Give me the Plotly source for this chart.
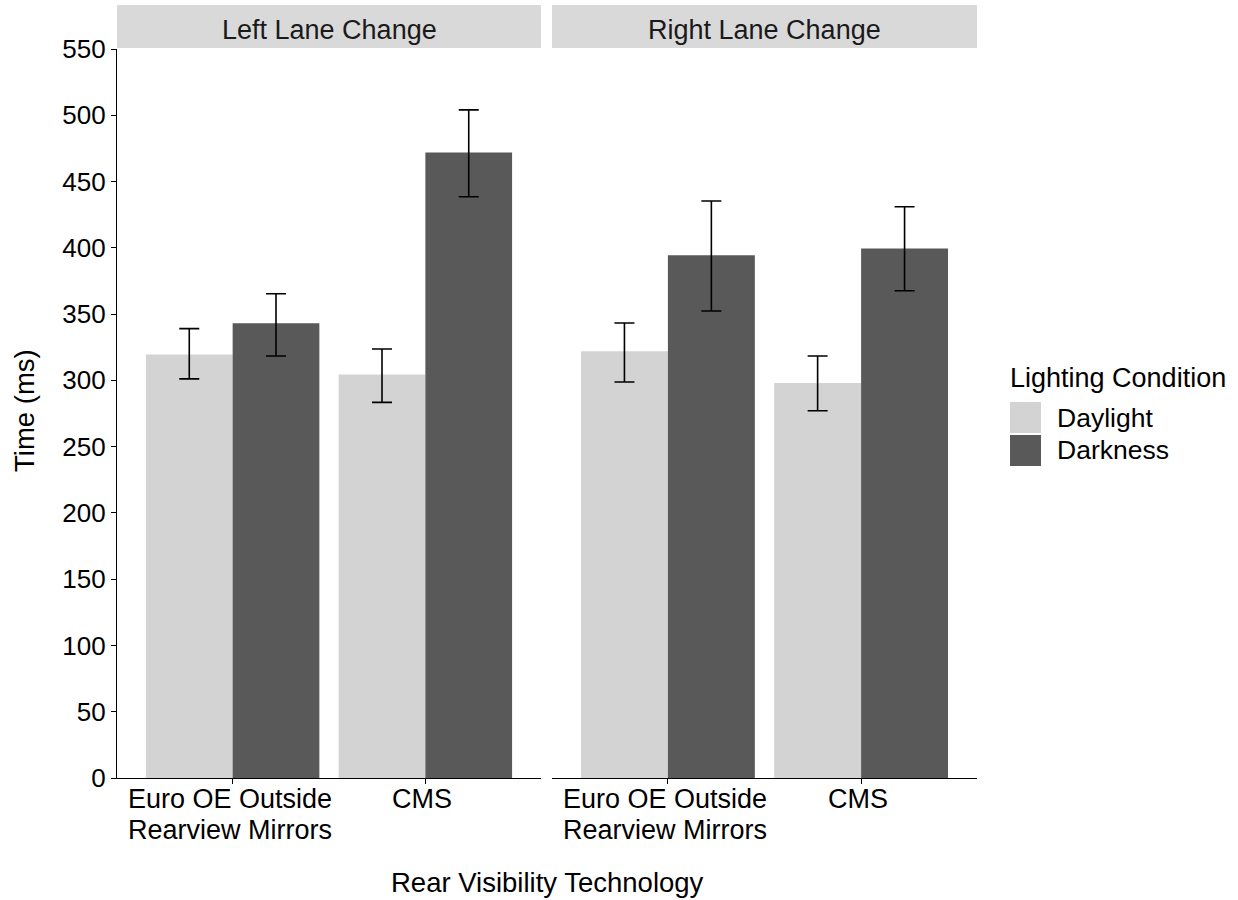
import plotly.graph_objects as go

# Data: mean response time (ms) with error-bar limits
categories = ["Euro OE Outside Rearview Mirrors", "CMS"]
category_lines = [["Euro OE Outside", "Rearview Mirrors"], ["CMS"]]
panels = ["Left Lane Change", "Right Lane Change"]
conditions = ["Daylight", "Darkness"]

left_daylight = [319.6, 304.5]
left_darkness = [343.0, 471.9]
right_daylight = [321.9, 298.0]
right_darkness = [394.3, 399.5]

left_daylight_hi = [339.0, 323.7]
left_daylight_lo = [301.1, 283.4]
left_darkness_hi = [365.4, 504.1]
left_darkness_lo = [318.4, 438.5]
right_daylight_hi = [343.3, 318.4]
right_daylight_lo = [298.8, 277.1]
right_darkness_hi = [435.3, 431.0]
right_darkness_lo = [352.3, 367.6]

y_ticks = list(range(0, 551, 50))

colors = {"Daylight": "#d3d3d3", "Darkness": "#595959"}
FONT = "Liberation Sans, Arial, sans-serif"
FS_NUM = 26
FS_TXT = 27
FS_TITLE = 27.5

series = {
    ("Left Lane Change", "Daylight"): (left_daylight, left_daylight_hi, left_daylight_lo),
    ("Left Lane Change", "Darkness"): (left_darkness, left_darkness_hi, left_darkness_lo),
    ("Right Lane Change", "Daylight"): (right_daylight, right_daylight_hi, right_daylight_lo),
    ("Right Lane Change", "Darkness"): (right_darkness, right_darkness_hi, right_darkness_lo),
}

fig = go.Figure()
for i, panel in enumerate(panels):
    xa = "x" if i == 0 else "x2"
    ya = "y" if i == 0 else "y2"
    for cond in conditions:
        vals, hi, lo = series[(panel, cond)]
        fig.add_trace(go.Bar(
            x=categories, y=vals, name=cond, xaxis=xa, yaxis=ya,
            marker=dict(color=colors[cond], line=dict(width=0)),
            error_y=dict(type="data", symmetric=False,
                         array=[h - v for h, v in zip(hi, vals)],
                         arrayminus=[v - l for v, l in zip(vals, lo)],
                         color="black", thickness=1.6, width=10),
            showlegend=False,
        ))

# plot area: panels at x 117-541 and 552-977 px, y 49-778 px
W, H = 1238, 900
L, R, T, B = 117, 977, 49, 778
pw = R - L
ph = B - T
d1 = (541 - L) / pw
d2 = (552 - L) / pw

def px(xp):
    return (xp - L) / pw

def py(yp):
    return (B - yp) / ph

axis_common = dict(
    type="category", range=[-0.6, 1.6], showline=True, linecolor="black",
    linewidth=1.2, ticks="outside", ticklen=5, tickcolor="black", tickwidth=1.2,
    showgrid=False, zeroline=False, showticklabels=False,
)
yaxis_common = dict(range=[0, 550], tickvals=y_ticks, showgrid=False, zeroline=False)

fig.update_layout(
    width=W, height=H,
    margin=dict(l=L, r=W - R, t=T, b=H - B),
    plot_bgcolor="white", paper_bgcolor="white",
    barmode="group", bargap=0.1, bargroupgap=0,
    font=dict(family=FONT, size=FS_TXT, color="black"),
    xaxis=dict(domain=[0, d1], anchor="y", **axis_common),
    xaxis2=dict(domain=[d2, 1], anchor="y2", **axis_common),
    yaxis=dict(anchor="x", showline=True, linecolor="black", linewidth=1.2,
               ticks="outside", ticklen=5, tickcolor="black", tickwidth=1.2,
               tickfont=dict(family=FONT, size=FS_NUM, color="black"), **yaxis_common),
    yaxis2=dict(anchor="x2", matches="y", showline=False, showticklabels=False,
                ticks="", **yaxis_common),
)

shapes = []
annotations = []

# category labels below each panel, one line at a time for tight spacing
line_y = [799, 830]
for xref in ["x", "x2"]:
    for cat, lines in zip(categories, category_lines):
        for k, line in enumerate(lines):
            annotations.append(dict(xref=xref, yref="paper", x=cat, y=py(line_y[k]),
                                    xshift=-3, text=line, showarrow=False,
                                    xanchor="center", yanchor="middle", borderpad=0,
                                    font=dict(family=FONT, size=FS_TXT, color="black")))

# facet strips
for (x0, x1), label in zip([(117, 541), (552, 977)], panels):
    shapes.append(dict(type="rect", xref="paper", yref="paper",
                       x0=px(x0), x1=px(x1), y0=py(48), y1=py(5),
                       fillcolor="#d9d9d9", line=dict(width=0), layer="below"))
    annotations.append(dict(xref="paper", yref="paper", x=px((x0 + x1) / 2), y=py(30),
                            text=label, showarrow=False, xanchor="center", yanchor="middle",
                            font=dict(family=FONT, size=FS_TXT, color="#1a1a1a")))

# axis titles
annotations.append(dict(xref="paper", yref="paper", x=px((L + R) / 2), y=py(882),
                        text="Rear Visibility Technology", showarrow=False,
                        xanchor="center", yanchor="middle",
                        font=dict(family=FONT, size=FS_TITLE, color="black")))
annotations.append(dict(xref="paper", yref="paper", x=px(24), y=py(411),
                        text="Time (ms)", showarrow=False, textangle=-90,
                        xanchor="center", yanchor="middle",
                        font=dict(family=FONT, size=FS_TITLE, color="black")))

# legend
annotations.append(dict(xref="paper", yref="paper", x=px(1008), y=py(378),
                        text="Lighting Condition", showarrow=False,
                        xanchor="left", yanchor="middle",
                        font=dict(family=FONT, size=FS_TXT, color="black")))
for cond, (y0, y1) in zip(conditions, [(402, 433), (435, 466)]):
    shapes.append(dict(type="rect", xref="paper", yref="paper",
                       x0=px(1010), x1=px(1041), y0=py(y1), y1=py(y0),
                       fillcolor=colors[cond], line=dict(width=0)))
    annotations.append(dict(xref="paper", yref="paper", x=px(1055), y=py((y0 + y1) / 2),
                            text=cond, showarrow=False, xanchor="left", yanchor="middle",
                            font=dict(family=FONT, size=FS_TXT - 0.5, color="black")))

fig.update_layout(shapes=shapes, annotations=annotations)

fig.write_html("out.html")
